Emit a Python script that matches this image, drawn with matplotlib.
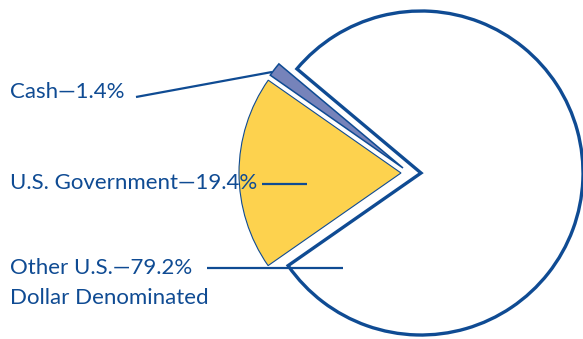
import matplotlib
matplotlib.use("Agg")
import matplotlib.pyplot as plt

categories = ["Cash", "U.S. Government", "Other U.S."]
values = [1.4, 19.4, 79.2]
label_extra = ["", "", "Dollar Denominated"]

NAVY = "#0f4b93"
colors = ["#7683ba", "#fdd24e", "#ffffff"]
edge_w = [1.1, 0.8, 2.4]
explode = [0, 20, 0]  # offset in pixels (axes data units)

W, H = 583, 339
CX, CY = 421, H - 173
fig = plt.figure(figsize=(W / 100, H / 100), dpi=100)
ax = fig.add_axes([0, 0, 1, 1])

wedges, _ = ax.pie(values, colors=colors, startangle=140, counterclock=True,
                   center=(CX, CY), radius=162, explode=explode,
                   wedgeprops=dict(edgecolor=NAVY, joinstyle="miter"))
for w, lw in zip(wedges, edge_w):
    w.set_linewidth(lw)
# cash slice is pulled out towards the left together with the government slice
wedges[0].set_center((CX - 18, CY + 5))

ax.set_xlim(0, W)
ax.set_ylim(0, H)
ax.set_aspect("equal")
ax.axis("off")

font = dict(family=["Lato", "DejaVu Sans"], fontsize=16, color=NAVY)

# label positions (pixels, top-origin) and leader lines
label_y = [92, 183, 268]
leaders = [((136, 97), (272, 72)), ((262, 184), (307, 184)), ((207, 268), (343, 268))]

for cat, v, extra, y, (p0, p1) in zip(categories, values, label_extra, label_y, leaders):
    ax.text(10, H - y, f"{cat}\u2014{v}%", va="center", ha="left", **font)
    if extra:
        ax.text(10, H - y - 30, extra, va="center", ha="left", **font)
    ax.plot([p0[0], p1[0]], [H - p0[1], H - p1[1]], color=NAVY, lw=1.6,
            solid_capstyle="butt")

fig.savefig("out.png", dpi=100)
